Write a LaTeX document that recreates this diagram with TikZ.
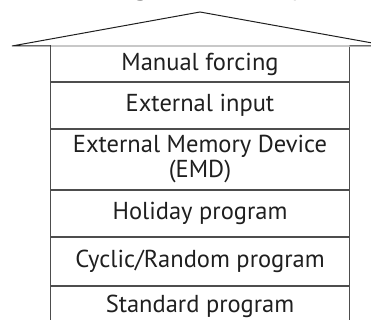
\documentclass[tikz,border=0pt]{standalone}
\usepackage{fontspec}
\setmainfont{PT Sans}
\usetikzlibrary{positioning}
\definecolor{Ink}{HTML}{1F1F1F}
\definecolor{Edge}{HTML}{4D4D4D}
\definecolor{Faint}{HTML}{C8C8C8}

\tikzset{
  layer/.style={draw=Edge, line width=1.3pt, minimum width=299pt, inner sep=0pt,
    outer sep=0pt, text=Ink, align=center, font=\fontsize{24.5}{25}\selectfont},
  roof/.style={draw=Ink, line width=1pt, line join=miter},
}

\begin{document}
\begin{tikzpicture}[x=1pt, y=-1pt]
  \clip (0,0) rectangle (371,320);
  \useasboundingbox (0,0) rectangle (371,320);

  % heading, only its lower edge is left in the picture
  \node[anchor=base, text=black, font=\bfseries\fontsize{30}{30}\selectfont] (title) at (205,-5) {Highest priority};

  % the layers, top to bottom
  \node[layer, anchor=north, minimum height=36pt] (manual) at (200,46) {Manual forcing};
  \node[layer, minimum height=47pt, below=0pt of manual] (extin) {External input};
  \node[layer, minimum height=61pt, below=0pt of extin] (emd) {External Memory Device\\(EMD)};
  \node[layer, minimum height=47pt, below=0pt of emd] (holiday) {Holiday program};
  \node[layer, minimum height=49pt, below=0pt of holiday] (cyclic) {Cyclic/Random program};
  \node[layer, minimum height=40pt, below=0pt of cyclic] (standard) {Standard program};

  \draw[Faint, line width=1.3pt] (manual.north west) -- (manual.north east);

  % roof
  \coordinate (peak) at (200,12);
  \coordinate (eaveL) at (12,46);
  \coordinate (eaveR) at (389,46);
  \draw[roof] (manual.north west) -- (eaveL) -- (peak) -- (eaveR) -- (manual.north east);
\end{tikzpicture}
\end{document}
